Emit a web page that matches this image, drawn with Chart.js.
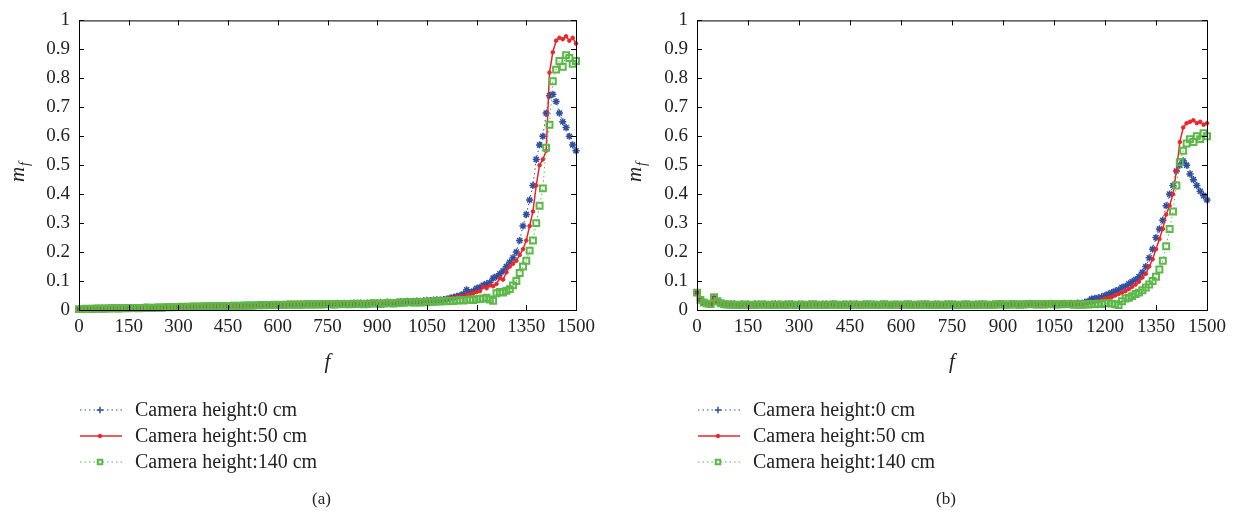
<!DOCTYPE html>
<html>
<head>
<meta charset="utf-8">
<script src="https://cdn.jsdelivr.net/npm/chart.js@4.4.1/dist/chart.umd.min.js"></script>
<style>
  body { margin: 0; background: #fff; }
  #wrap { position: relative; width: 1235px; height: 515px; }
  canvas { position: absolute; top: 0; }
</style>
</head>
<body>
<div id="wrap">
  <canvas id="chartA" width="617" height="515" style="left:0"></canvas>
  <canvas id="chartB" width="618" height="515" style="left:617px"></canvas>
</div>
<script>
// frame numbers (x positions of the samples)
const frames = [0,10,20,30,40,50,60,70,80,90,100,110,120,130,140,150,160,170,180,190,200,
  210,220,230,240,250,260,270,280,290,300,310,320,330,340,350,360,370,380,390,400,
  410,420,430,440,450,460,470,480,490,500,510,520,530,540,550,560,570,580,590,600,
  610,620,630,640,650,660,670,680,690,700,710,720,730,740,750,760,770,780,790,800,
  810,820,830,840,850,860,870,880,890,900,910,920,930,940,950,960,970,980,990,1000,
  1010,1020,1030,1040,1050,1060,1070,1080,1090,1100,1110,1120,1130,1140,1150,1160,1170,1180,1190,1200,
  1210,1220,1230,1240,1250,1260,1270,1280,1290,1300,1310,1320,1330,1340,1350,1360,1370,1380,1390,1400,
  1410,1420,1430,1440,1450,1460,1470,1480,1490,1500];

const seriesNames = ['Camera height:0 cm', 'Camera height:50 cm', 'Camera height:140 cm'];
const captions = ['(a)', '(b)'];
const xTicks = [0,150,300,450,600,750,900,1050,1200,1350,1500];

// (a)
const blueA = [0.003,0.004,0.004,0.005,0.004,0.005,0.005,0.006,0.005,0.006,0.006,
  0.007,0.006,0.007,0.008,0.007,0.008,0.008,0.007,0.008,0.009,
  0.009,0.008,0.009,0.010,0.010,0.011,0.010,0.011,0.011,0.012,
  0.011,0.012,0.012,0.013,0.013,0.012,0.013,0.014,0.014,0.013,
  0.014,0.015,0.015,0.014,0.015,0.016,0.016,0.015,0.016,0.017,
  0.017,0.016,0.017,0.018,0.018,0.017,0.018,0.019,0.019,0.018,
  0.019,0.019,0.020,0.020,0.019,0.020,0.021,0.020,0.021,0.021,
  0.021,0.022,0.021,0.022,0.022,0.021,0.022,0.023,0.022,0.023,
  0.022,0.023,0.024,0.023,0.024,0.023,0.024,0.025,0.024,0.025,
  0.026,0.024,0.027,0.026,0.025,0.027,0.029,0.028,0.030,0.029,
  0.030,0.031,0.030,0.032,0.033,0.032,0.034,0.035,0.034,0.036,
  0.038,0.041,0.044,0.047,0.050,0.055,0.070,0.060,0.065,0.075,
  0.078,0.085,0.090,0.095,0.110,0.115,0.125,0.135,0.150,0.165,
  0.180,0.200,0.240,0.290,0.330,0.380,0.430,0.520,0.570,0.600,
  0.680,0.740,0.745,0.720,0.680,0.650,0.630,0.600,0.570,0.550];
const redA = [0.004,0.003,0.004,0.004,0.005,0.004,0.005,0.005,0.006,0.005,0.006,
  0.007,0.006,0.007,0.007,0.006,0.008,0.007,0.008,0.008,0.009,
  0.008,0.009,0.009,0.010,0.009,0.010,0.011,0.010,0.011,0.011,
  0.012,0.011,0.012,0.013,0.012,0.013,0.013,0.014,0.013,0.014,
  0.014,0.015,0.014,0.015,0.016,0.015,0.016,0.016,0.017,0.016,
  0.017,0.017,0.018,0.017,0.018,0.019,0.018,0.019,0.019,0.020,
  0.019,0.020,0.020,0.021,0.020,0.021,0.022,0.021,0.022,0.021,
  0.022,0.022,0.021,0.023,0.022,0.023,0.022,0.024,0.023,0.022,
  0.023,0.024,0.023,0.024,0.025,0.024,0.023,0.025,0.026,0.025,
  0.023,0.025,0.030,0.028,0.026,0.027,0.031,0.030,0.033,0.032,
  0.031,0.030,0.033,0.034,0.032,0.035,0.034,0.036,0.038,0.037,
  0.040,0.042,0.041,0.045,0.048,0.046,0.052,0.055,0.058,0.062,
  0.065,0.080,0.075,0.085,0.082,0.090,0.110,0.105,0.130,0.150,
  0.160,0.170,0.190,0.210,0.240,0.290,0.340,0.430,0.500,0.520,
  0.550,0.820,0.890,0.930,0.940,0.935,0.945,0.930,0.940,0.920];
const greenA = [0.003,0.003,0.004,0.003,0.004,0.004,0.005,0.004,0.005,0.005,0.006,
  0.006,0.005,0.006,0.007,0.006,0.007,0.007,0.006,0.007,0.008,
  0.008,0.007,0.008,0.009,0.008,0.009,0.010,0.009,0.010,0.010,
  0.011,0.010,0.011,0.011,0.012,0.011,0.012,0.012,0.013,0.012,
  0.013,0.013,0.014,0.013,0.014,0.014,0.015,0.014,0.015,0.015,
  0.016,0.015,0.016,0.016,0.017,0.016,0.017,0.017,0.018,0.017,
  0.018,0.017,0.018,0.019,0.018,0.019,0.018,0.019,0.020,0.019,
  0.019,0.020,0.019,0.020,0.021,0.020,0.019,0.020,0.021,0.020,
  0.021,0.020,0.021,0.022,0.021,0.020,0.021,0.022,0.023,0.022,
  0.021,0.022,0.024,0.023,0.022,0.024,0.026,0.025,0.028,0.027,
  0.026,0.027,0.026,0.028,0.027,0.029,0.028,0.030,0.029,0.031,
  0.030,0.032,0.031,0.033,0.034,0.033,0.035,0.036,0.034,0.037,
  0.038,0.040,0.042,0.036,0.032,0.058,0.062,0.060,0.066,0.072,
  0.085,0.100,0.128,0.150,0.170,0.205,0.240,0.300,0.360,0.420,
  0.560,0.640,0.790,0.830,0.860,0.840,0.880,0.870,0.850,0.860];

// (b)
const blueB = [0.059,0.034,0.025,0.022,0.021,0.041,0.029,0.023,0.021,0.020,0.020,
  0.021,0.019,0.020,0.019,0.020,0.019,0.021,0.020,0.019,0.020,
  0.019,0.020,0.021,0.020,0.019,0.020,0.020,0.021,0.019,0.020,
  0.020,0.019,0.020,0.021,0.020,0.019,0.020,0.020,0.019,0.021,
  0.020,0.019,0.020,0.020,0.021,0.019,0.020,0.019,0.020,0.021,
  0.020,0.020,0.019,0.020,0.021,0.020,0.019,0.020,0.020,0.019,
  0.020,0.021,0.020,0.019,0.020,0.020,0.021,0.020,0.019,0.020,
  0.020,0.019,0.020,0.021,0.020,0.020,0.019,0.020,0.021,0.020,
  0.019,0.020,0.020,0.021,0.020,0.019,0.020,0.021,0.022,0.021,
  0.020,0.021,0.022,0.021,0.020,0.021,0.022,0.023,0.022,0.021,
  0.022,0.021,0.022,0.023,0.022,0.021,0.022,0.023,0.022,0.023,
  0.022,0.024,0.023,0.026,0.030,0.038,0.040,0.042,0.045,0.050,
  0.055,0.060,0.065,0.070,0.078,0.082,0.090,0.098,0.105,0.115,
  0.130,0.150,0.180,0.210,0.250,0.280,0.310,0.360,0.400,0.430,
  0.480,0.500,0.515,0.500,0.470,0.450,0.430,0.410,0.395,0.380];
const redB = [0.058,0.033,0.025,0.021,0.020,0.040,0.028,0.022,0.020,0.019,0.019,
  0.019,0.018,0.020,0.019,0.018,0.019,0.020,0.019,0.018,0.019,
  0.018,0.019,0.020,0.019,0.018,0.019,0.019,0.020,0.018,0.019,
  0.019,0.018,0.019,0.020,0.019,0.018,0.019,0.019,0.018,0.020,
  0.019,0.018,0.019,0.019,0.020,0.018,0.019,0.018,0.019,0.020,
  0.019,0.019,0.018,0.019,0.020,0.019,0.018,0.019,0.019,0.018,
  0.019,0.020,0.019,0.018,0.019,0.019,0.020,0.019,0.018,0.019,
  0.019,0.018,0.019,0.020,0.019,0.019,0.018,0.019,0.020,0.019,
  0.018,0.019,0.019,0.020,0.019,0.018,0.019,0.020,0.021,0.020,
  0.019,0.020,0.021,0.020,0.019,0.020,0.021,0.022,0.021,0.020,
  0.021,0.020,0.021,0.022,0.021,0.020,0.021,0.022,0.021,0.022,
  0.020,0.021,0.022,0.021,0.023,0.025,0.028,0.030,0.034,0.040,
  0.042,0.045,0.050,0.055,0.060,0.065,0.072,0.080,0.088,0.098,
  0.112,0.125,0.150,0.175,0.210,0.245,0.280,0.330,0.360,0.400,
  0.480,0.580,0.630,0.645,0.650,0.655,0.645,0.650,0.640,0.645];
const greenB = [0.060,0.035,0.026,0.022,0.021,0.044,0.030,0.023,0.020,0.019,0.018,
  0.018,0.017,0.018,0.019,0.017,0.018,0.017,0.018,0.019,0.018,
  0.017,0.018,0.017,0.018,0.018,0.017,0.019,0.018,0.017,0.018,
  0.018,0.017,0.018,0.019,0.018,0.017,0.018,0.017,0.018,0.019,
  0.018,0.017,0.018,0.018,0.017,0.019,0.018,0.017,0.018,0.019,
  0.018,0.018,0.017,0.018,0.019,0.018,0.017,0.018,0.018,0.017,
  0.018,0.019,0.018,0.017,0.018,0.018,0.019,0.018,0.017,0.018,
  0.018,0.017,0.018,0.019,0.018,0.018,0.017,0.018,0.019,0.018,
  0.017,0.018,0.018,0.019,0.018,0.017,0.018,0.019,0.020,0.019,
  0.018,0.019,0.020,0.019,0.018,0.019,0.020,0.021,0.020,0.019,
  0.020,0.019,0.020,0.021,0.020,0.019,0.020,0.021,0.020,0.021,
  0.018,0.019,0.018,0.020,0.019,0.021,0.020,0.022,0.021,0.023,
  0.024,0.022,0.020,0.017,0.030,0.040,0.042,0.048,0.055,0.060,
  0.068,0.078,0.088,0.100,0.115,0.140,0.170,0.220,0.280,0.340,
  0.430,0.510,0.550,0.575,0.590,0.580,0.600,0.590,0.610,0.600];

const FONT = "'Liberation Serif', 'DejaVu Serif', serif";
const colors = { blue: '#2f4f9f', red: '#e8262b', green: '#5cb848' };

function pts(values) {
  return frames.map((f, i) => ({ x: f, y: values[i] }));
}

function makeDatasets(blue, red, green) {
  return [
    { label: seriesNames[0], data: pts(blue), order: 3,
      borderColor: colors.blue, borderWidth: 1, borderDash: [1.5, 3],
      pointStyle: 'star', pointRadius: 3.6, pointBorderWidth: 1.5,
      pointBorderColor: colors.blue, pointBackgroundColor: colors.blue },
    { label: seriesNames[1], data: pts(red), order: 2,
      borderColor: colors.red, borderWidth: 1.5,
      pointStyle: 'circle', pointRadius: 1.8, pointBorderWidth: 1,
      pointBorderColor: colors.red, pointBackgroundColor: colors.red },
    { label: seriesNames[2], data: pts(green), order: 1,
      borderColor: colors.green, borderWidth: 1, borderDash: [1.5, 3],
      pointStyle: 'rect', pointRadius: 4.2, pointBorderWidth: 2,
      pointBorderColor: colors.green, pointBackgroundColor: 'rgba(0,0,0,0)' }
  ];
}

// frame box, inward ticks, axis titles, legend and caption
const decoPlugin = {
  id: 'deco',
  afterDatasetsDraw(chart) {
    const { ctx, chartArea: a, scales: { x, y } } = chart;
    ctx.save();
    ctx.strokeStyle = '#000';
    ctx.lineWidth = 1;
    ctx.setLineDash([]);
    ctx.strokeRect(a.left + 0.5, a.top + 0.5, a.right - a.left, a.bottom - a.top);
    ctx.beginPath();
    x.ticks.forEach(t => {
      const px = Math.round(x.getPixelForValue(t.value)) + 0.5;
      ctx.moveTo(px, a.bottom); ctx.lineTo(px, a.bottom - 5);
      ctx.moveTo(px, a.top); ctx.lineTo(px, a.top + 5);
    });
    y.ticks.forEach(t => {
      const py = Math.round(y.getPixelForValue(t.value)) + 0.5;
      ctx.moveTo(a.left, py); ctx.lineTo(a.left + 5, py);
      ctx.moveTo(a.right, py); ctx.lineTo(a.right - 5, py);
    });
    ctx.stroke();
    ctx.restore();
  },
  afterDraw(chart, args, opts) {
    const { ctx, chartArea: a } = chart;
    ctx.save();
    ctx.fillStyle = '#222';
    // x title
    ctx.font = 'italic 21px ' + FONT;
    ctx.textAlign = 'center';
    ctx.textBaseline = 'middle';
    ctx.fillText('f', (a.left + a.right) / 2, 362);
    // y title m_f
    ctx.save();
    ctx.translate(20, 170);
    ctx.rotate(-Math.PI / 2);
    ctx.textAlign = 'left';
    ctx.textBaseline = 'alphabetic';
    ctx.font = 'italic 21px ' + FONT;
    ctx.fillText('m', -12, 4);
    ctx.font = 'italic 14px ' + FONT;
    ctx.fillText('f', 4, 9);
    ctx.restore();

    // legend
    const rows = [410, 436, 462];
    const legendStyle = ['cross', 'circle', 'rect'];
    chart.data.datasets.forEach((ds, i) => {
      const cy = rows[i];
      ctx.save();
      ctx.strokeStyle = ds.borderColor;
      ctx.lineWidth = ds.borderWidth;
      ctx.setLineDash(ds.borderDash || []);
      ctx.beginPath();
      ctx.moveTo(a.left + 1, cy);
      ctx.lineTo(a.left + 43, cy);
      ctx.stroke();
      ctx.setLineDash([]);
      ctx.strokeStyle = ds.pointBorderColor;
      ctx.fillStyle = ds.pointBackgroundColor;
      ctx.lineWidth = ds.pointBorderWidth;
      Chart.helpers.drawPoint(ctx, { pointStyle: legendStyle[i], radius: Math.min(ds.pointRadius, 3.2), rotation: 0, borderWidth: ds.pointBorderWidth }, a.left + 21, cy);
      ctx.restore();
      ctx.fillStyle = '#222';
      ctx.font = '20px ' + FONT;
      ctx.textAlign = 'left';
      ctx.textBaseline = 'middle';
      ctx.fillText(ds.label, a.left + 56, cy + 1);
    });

    // caption
    ctx.font = '17px ' + FONT;
    ctx.textAlign = 'center';
    ctx.fillText(opts.caption, (a.left + a.right) / 2 - 6, 500);
    ctx.restore();
  }
};

function makeChart(id, datasets, caption, padLeft, padRight) {
  return new Chart(document.getElementById(id), {
    type: 'line',
    data: { datasets },
    plugins: [decoPlugin],
    options: {
      responsive: false,
      animation: false,
      clip: false,
      layout: { padding: { left: padLeft, right: padRight, top: 15, bottom: 165 } },
      plugins: {
        legend: { display: false },
        tooltip: { enabled: false },
        deco: { caption }
      },
      scales: {
        x: {
          type: 'linear', min: 0, max: 1500,
          afterBuildTicks: s => { s.ticks = xTicks.map(v => ({ value: v })); },
          afterFit: s => { s.height = 40; },
          grid: { display: false, drawTicks: false },
          border: { display: false },
          ticks: { color: '#222', padding: 6, maxRotation: 0, autoSkip: false,
                   callback: v => String(v),
                   font: { family: FONT, size: 19 } }
        },
        y: {
          min: 0, max: 1,
          afterFit: s => { s.width = 40; },
          grid: { display: false, drawTicks: false },
          border: { display: false },
          ticks: { stepSize: 0.1, color: '#222', padding: 9,
                   callback: v => String(Math.round(v * 10) / 10),
                   font: { family: FONT, size: 19 } }
        }
      }
    }
  });
}

makeChart('chartA', makeDatasets(blueA, redA, greenA), captions[0], 39, 41);
makeChart('chartB', makeDatasets(blueB, redB, greenB), captions[1], 40, 28);
</script>
</body>
</html>
